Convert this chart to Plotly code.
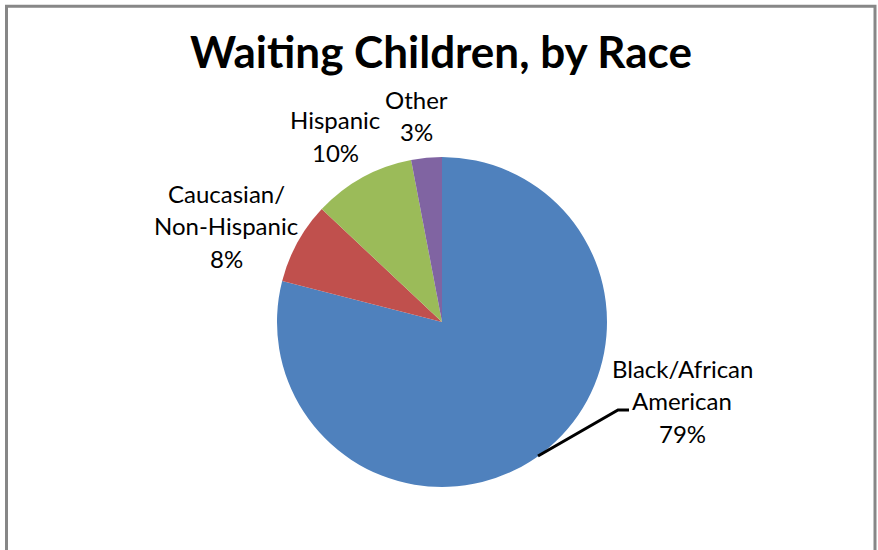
import plotly.graph_objects as go

# ---- data ----
categories = ["Black/African<br>American", "Caucasian/<br>Non-Hispanic", "Hispanic", "Other"]
values = [79, 8, 10, 3]
colors = ["#4F81BD", "#C0504D", "#9BBB59", "#8064A2"]
title_text = "Waiting Children, by Race"

W, H = 878, 550
total = sum(values)
pct = [f"{v / total * 100:.0f}%" for v in values]

# pie geometry (pixels)
cx, cy, r = 442, 322, 165

def px(x):
    return x / W

def py(y):
    return (H - y) / H

fig = go.Figure(
    go.Pie(
        labels=categories,
        values=values,
        sort=False,
        direction="clockwise",
        rotation=0,
        marker=dict(colors=colors, line=dict(width=0)),
        textinfo="none",
        hoverinfo="label+percent",
        showlegend=False,
        domain=dict(x=[px(cx - r), px(cx + r)], y=[py(cy + r), py(cy - r)]),
    )
)

# label positions: x centre and y centre of first line, line step (pixels)
label_pos = [(682, 368), (226, 193), (335, 120), (416, 99)]
line_step = 32.5
label_font = dict(family="Lato, Carlito, Calibri, sans-serif", size=24, color="#000000")
for name, p, (lx, ly) in zip(categories, pct, label_pos):
    lines = name.split("<br>") + [p]
    for i, line in enumerate(lines):
        fig.add_annotation(
            x=px(lx), y=py(ly + i * line_step), xref="paper", yref="paper",
            text=line, showarrow=False,
            xanchor="center", yanchor="middle", align="center",
            font=label_font,
        )

# leader line for the largest slice
fig.add_shape(
    type="path", xref="paper", yref="paper",
    path=f"M {px(538)} {py(456)} L {px(618)} {py(410)} L {px(629)} {py(410)}",
    line=dict(color="#000000", width=3),
)

# chart frame
fig.add_shape(
    type="rect", xref="paper", yref="paper",
    x0=px(6.5), x1=px(875), y0=-0.2, y1=py(6.2),
    line=dict(color="#878787", width=3),
    fillcolor="rgba(0,0,0,0)", layer="below",
)

fig.add_annotation(
    x=px(441), y=py(51), xref="paper", yref="paper",
    text=f"<b>{title_text}</b>", showarrow=False,
    xanchor="center", yanchor="middle",
    font=dict(family="Lato, Carlito, Calibri, sans-serif", size=44, color="#000000"),
)

fig.update_layout(
    width=W, height=H,
    margin=dict(l=0, r=0, t=0, b=0),
    paper_bgcolor="#FFFFFF",
    plot_bgcolor="#FFFFFF",
)

fig.write_html("out.html")
